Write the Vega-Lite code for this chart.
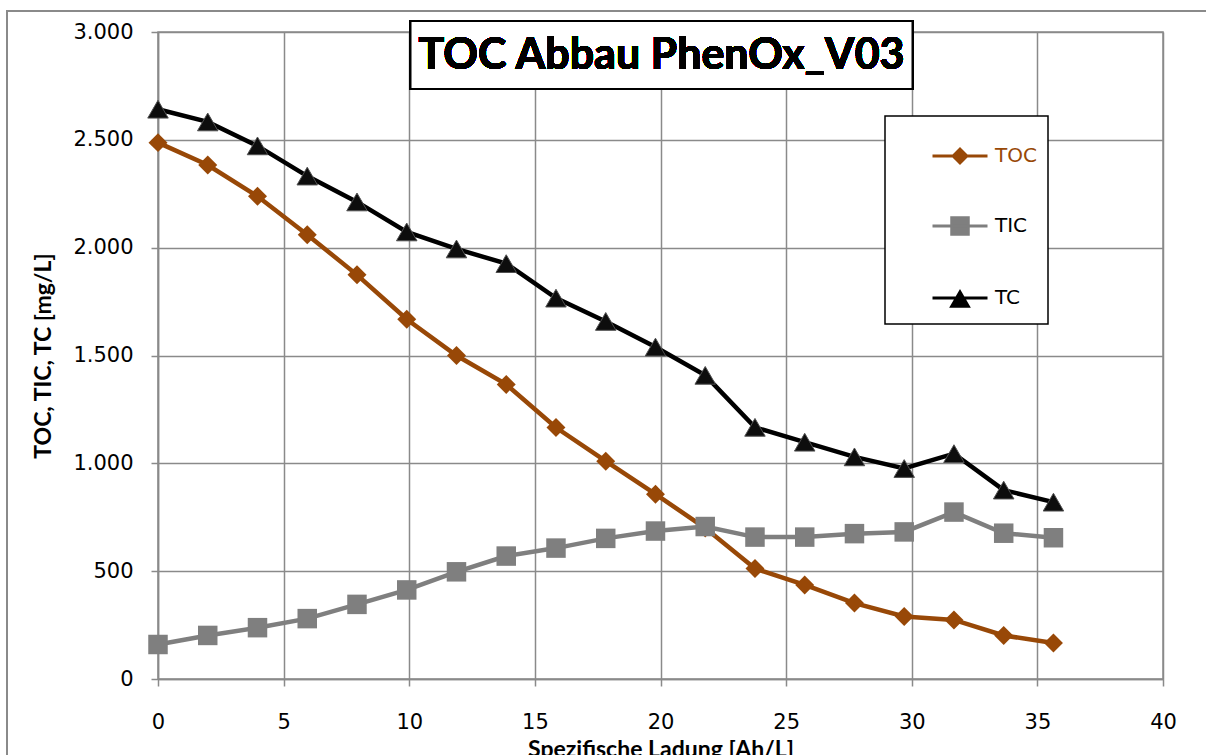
{
  "$schema": "https://vega.github.io/schema/vega-lite/v6.json",
  "width": 1005,
  "height": 647,
  "autosize": {"type": "none"},
  "padding": {"left": 158, "top": 32, "right": 43, "bottom": 76},
  "background": "white",
  "config": {
    "view": {"stroke": "#8a8a8a", "strokeWidth": 1.5},
    "legend": {"strokeWidth": 1.5},
    "axis": {
      "gridColor": "#8a8a8a", "gridWidth": 1.5, "gridOpacity": 1,
      "domainColor": "#8a8a8a", "domainWidth": 1.5,
      "tickColor": "#8a8a8a", "tickWidth": 1.5, "tickSize": 7,
      "labelFont": "DejaVu Sans", "labelFontSize": 21, "labelColor": "black",
      "titleFont": "Lato", "titleFontSize": 23, "titleFontWeight": "bold", "titleColor": "black"
    }
  },
  "data": {"values": [
    {"x": 0, "series": "TOC", "value": 2487},
    {"x": 1.98, "series": "TOC", "value": 2383},
    {"x": 3.96, "series": "TOC", "value": 2238},
    {"x": 5.94, "series": "TOC", "value": 2060},
    {"x": 7.92, "series": "TOC", "value": 1874},
    {"x": 9.9, "series": "TOC", "value": 1668},
    {"x": 11.88, "series": "TOC", "value": 1500},
    {"x": 13.86, "series": "TOC", "value": 1366},
    {"x": 15.84, "series": "TOC", "value": 1166},
    {"x": 17.82, "series": "TOC", "value": 1010},
    {"x": 19.8, "series": "TOC", "value": 857},
    {"x": 21.78, "series": "TOC", "value": 700},
    {"x": 23.76, "series": "TOC", "value": 512},
    {"x": 25.74, "series": "TOC", "value": 436},
    {"x": 27.72, "series": "TOC", "value": 352},
    {"x": 29.7, "series": "TOC", "value": 290},
    {"x": 31.68, "series": "TOC", "value": 274},
    {"x": 33.66, "series": "TOC", "value": 202},
    {"x": 35.64, "series": "TOC", "value": 167},
    {"x": 0, "series": "TIC", "value": 160},
    {"x": 1.98, "series": "TIC", "value": 202},
    {"x": 3.96, "series": "TIC", "value": 238},
    {"x": 5.94, "series": "TIC", "value": 280},
    {"x": 7.92, "series": "TIC", "value": 346},
    {"x": 9.9, "series": "TIC", "value": 413},
    {"x": 11.88, "series": "TIC", "value": 497},
    {"x": 13.86, "series": "TIC", "value": 570},
    {"x": 15.84, "series": "TIC", "value": 607},
    {"x": 17.82, "series": "TIC", "value": 652},
    {"x": 19.8, "series": "TIC", "value": 686},
    {"x": 21.78, "series": "TIC", "value": 707},
    {"x": 23.76, "series": "TIC", "value": 658},
    {"x": 25.74, "series": "TIC", "value": 658},
    {"x": 27.72, "series": "TIC", "value": 674},
    {"x": 29.7, "series": "TIC", "value": 682},
    {"x": 31.68, "series": "TIC", "value": 774},
    {"x": 33.66, "series": "TIC", "value": 676},
    {"x": 35.64, "series": "TIC", "value": 655},
    {"x": 0, "series": "TC", "value": 2642},
    {"x": 1.98, "series": "TC", "value": 2583},
    {"x": 3.96, "series": "TC", "value": 2472},
    {"x": 5.94, "series": "TC", "value": 2332},
    {"x": 7.92, "series": "TC", "value": 2212},
    {"x": 9.9, "series": "TC", "value": 2073},
    {"x": 11.88, "series": "TC", "value": 1994},
    {"x": 13.86, "series": "TC", "value": 1926},
    {"x": 15.84, "series": "TC", "value": 1766},
    {"x": 17.82, "series": "TC", "value": 1658},
    {"x": 19.8, "series": "TC", "value": 1539},
    {"x": 21.78, "series": "TC", "value": 1408},
    {"x": 23.76, "series": "TC", "value": 1167},
    {"x": 25.74, "series": "TC", "value": 1098},
    {"x": 27.72, "series": "TC", "value": 1030},
    {"x": 29.7, "series": "TC", "value": 976},
    {"x": 31.68, "series": "TC", "value": 1045},
    {"x": 33.66, "series": "TC", "value": 876},
    {"x": 35.64, "series": "TC", "value": 820}
  ]},
  "encoding": {
    "x": {"field": "x", "type": "quantitative",
      "scale": {"domain": [0, 40], "nice": false},
      "axis": {"values": [0, 5, 10, 15, 20, 25, 30, 35, 40], "title": "Spezifische Ladung [Ah/L]", "labelPadding": 25, "titlePadding": 6, "labelFlush": false}},
    "y": {"field": "value", "type": "quantitative",
      "scale": {"domain": [0, 3000], "nice": false},
      "axis": {"values": [0, 500, 1000, 1500, 2000, 2500, 3000], "title": "TOC, TIC, TC [mg/L]", "labelPadding": 18, "titlePadding": 17,
        "labelExpr": "replace(format(datum.value, ',d'), ',', '.')", "labelFlush": false}}
  },
  "layer": [
    {
      "mark": {"type": "rect", "fillOpacity": 0, "stroke": "#8a8a8a", "strokeWidth": 1.5, "clip": false},
      "encoding": {
        "x": {"datum": -6, "type": "quantitative"},
        "x2": {"datum": 42},
        "y": {"datum": 3097, "type": "quantitative"},
        "y2": {"datum": -500}
      }
    },
    {
      "mark": {"type": "line", "strokeWidth": 4.5},
      "encoding": {
        "color": {"field": "series", "type": "nominal",
          "scale": {"domain": ["TOC", "TIC", "TC"], "range": ["#984807", "#7f7f7f", "#000000"]},
          "legend": {
            "orient": "none", "legendX": 727, "legendY": 84, "title": null,
            "strokeColor": "black", "fillColor": "white",
            "padding": 11, "symbolOffset": 35, "rowPadding": 28, "labelOffset": 6,
            "symbolSize": 3025, "symbolStrokeWidth": 3,
            "labelFont": "DejaVu Sans", "labelFontSize": 20,
            "encode": {
              "symbols": {"update": {
                "shape": {"signal": "datum.value === 'TOC' ? 'M-1,0L1,0M-0.25,0L0,-0.25L0.25,0L0,0.25Z' : datum.value === 'TIC' ? 'M-1,0L1,0M-0.3,-0.3L0.3,-0.3L0.3,0.3L-0.3,0.3Z' : 'M-1,0L1,0M0,-0.22L0.3,0.3L-0.3,0.3Z'"},
                "size": {"value": 3025},
                "fill": {"signal": "datum.value === 'TOC' ? '#984807' : datum.value === 'TIC' ? '#7f7f7f' : '#000000'"},
                "stroke": {"signal": "datum.value === 'TOC' ? '#984807' : datum.value === 'TIC' ? '#7f7f7f' : '#000000'"},
                "strokeWidth": {"value": 3},
                "fillOpacity": {"value": 1},
                "opacity": {"value": 1}
              }},
              "labels": {"update": {
                "fill": {"signal": "datum.value === 'TOC' ? '#984807' : '#000000'"}
              }}
            }
          }}
      }
    },
    {
      "transform": [{"filter": "datum.series === 'TOC'"}],
      "mark": {"type": "point", "shape": "diamond", "size": 360, "filled": true, "opacity": 1, "fill": "#984807", "color": "#984807"}
    },
    {
      "transform": [{"filter": "datum.series === 'TIC'"}],
      "mark": {"type": "point", "shape": "square", "size": 380, "filled": true, "opacity": 1, "fill": "#7f7f7f", "color": "#7f7f7f"}
    },
    {
      "transform": [{"filter": "datum.series === 'TC'"}],
      "mark": {"type": "point", "shape": "triangle-up", "size": 420, "filled": true, "opacity": 1, "fill": "#0d0d0d", "stroke": "#505050", "strokeWidth": 1}
    },
    {
      "mark": {"type": "rect", "fill": "white", "stroke": "black", "strokeWidth": 2, "clip": false},
      "encoding": {
        "x": {"datum": 10.05, "type": "quantitative"},
        "x2": {"datum": 30.03},
        "y": {"datum": 3051, "type": "quantitative"},
        "y2": {"datum": 2736}
      }
    },
    {
      "mark": {"type": "text", "text": "TOC Abbau PhenOx_V03", "font": "Lato", "fontWeight": "bold", "fontSize": 43, "align": "center", "baseline": "middle", "color": "black", "clip": false},
      "encoding": {
        "x": {"datum": 20.04, "type": "quantitative"},
        "y": {"datum": 2890, "type": "quantitative"}
      }
    }
  ]
}
